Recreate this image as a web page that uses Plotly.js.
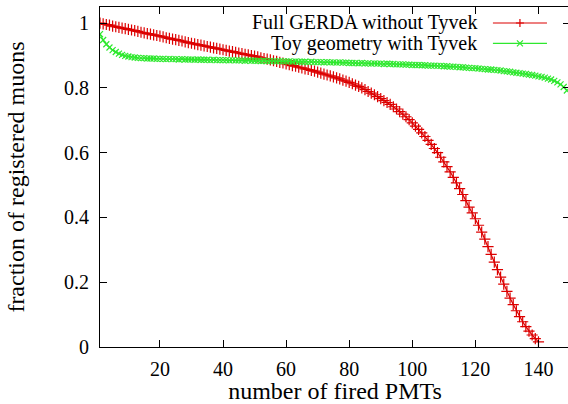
<!DOCTYPE html>
<html>
<head>
<meta charset="utf-8">
<script src="https://cdn.plot.ly/plotly-3.0.1.min.js"></script>
<style>
html,body{margin:0;padding:0;overflow:hidden;background:#fff;}
#chart{width:580px;height:404px;}
</style>
</head>
<body>
<div id="chart"></div>
<script>
// Series 1: Full GERDA without Tyvek (x = 1..140)
const gerdaX = Array.from({length: 140}, (_, i) => i + 1);
const gerdaY = [
  1.000, 0.998, 0.996, 0.994, 0.991, 0.989, 0.987, 0.985, 0.983, 0.981,
  0.979, 0.977, 0.975, 0.972, 0.970, 0.968, 0.966, 0.964, 0.962, 0.960,
  0.958, 0.955, 0.953, 0.951, 0.949, 0.947, 0.945, 0.942, 0.940, 0.938,
  0.936, 0.934, 0.932, 0.930, 0.928, 0.926, 0.924, 0.922, 0.920, 0.918,
  0.916, 0.914, 0.912, 0.910, 0.908, 0.906, 0.904, 0.902, 0.900, 0.898,
  0.896, 0.893, 0.891, 0.889, 0.887, 0.884, 0.882, 0.879, 0.877, 0.874,
  0.872, 0.869, 0.867, 0.864, 0.862, 0.859, 0.857, 0.854, 0.852, 0.849,
  0.846, 0.843, 0.840, 0.837, 0.834, 0.831, 0.828, 0.824, 0.821, 0.817,
  0.813, 0.809, 0.805, 0.800, 0.795, 0.789, 0.784, 0.779, 0.773, 0.767,
  0.761, 0.755, 0.749, 0.742, 0.735, 0.727, 0.719, 0.711, 0.702, 0.692,
  0.682, 0.672, 0.661, 0.650, 0.638, 0.626, 0.613, 0.600, 0.586, 0.572,
  0.557, 0.541, 0.524, 0.507, 0.489, 0.471, 0.452, 0.432, 0.414, 0.396,
  0.376, 0.355, 0.333, 0.310, 0.286, 0.262, 0.239, 0.216, 0.194, 0.172,
  0.151, 0.131, 0.112, 0.094, 0.078, 0.063, 0.049, 0.037, 0.026, 0.016
];

// Series 2: Toy geometry with Tyvek (x = 1..149)
const toyX = Array.from({length: 149}, (_, i) => i + 1);
const toyY = [
  0.966, 0.948, 0.935, 0.925, 0.917, 0.911, 0.906, 0.902, 0.899, 0.897,
  0.895, 0.894, 0.893, 0.892, 0.892, 0.891, 0.891, 0.891, 0.890, 0.890,
  0.890, 0.889, 0.890, 0.889, 0.889, 0.888, 0.889, 0.888, 0.888, 0.888,
  0.887, 0.888, 0.887, 0.887, 0.887, 0.886, 0.887, 0.886, 0.886, 0.886,
  0.886, 0.885, 0.886, 0.885, 0.885, 0.885, 0.884, 0.885, 0.884, 0.884,
  0.884, 0.883, 0.884, 0.883, 0.883, 0.883, 0.882, 0.883, 0.882, 0.882,
  0.882, 0.881, 0.882, 0.881, 0.881, 0.881, 0.880, 0.881, 0.880, 0.880,
  0.880, 0.879, 0.880, 0.879, 0.879, 0.878, 0.879, 0.878, 0.878, 0.877,
  0.877, 0.877, 0.876, 0.877, 0.876, 0.876, 0.875, 0.876, 0.875, 0.875,
  0.874, 0.875, 0.874, 0.874, 0.873, 0.873, 0.873, 0.872, 0.872, 0.871,
  0.871, 0.871, 0.870, 0.870, 0.869, 0.869, 0.869, 0.868, 0.868, 0.867,
  0.867, 0.866, 0.866, 0.865, 0.864, 0.864, 0.863, 0.862, 0.861, 0.861,
  0.860, 0.859, 0.858, 0.857, 0.857, 0.856, 0.855, 0.854, 0.852, 0.851,
  0.850, 0.848, 0.847, 0.846, 0.844, 0.843, 0.841, 0.840, 0.838, 0.836,
  0.834, 0.832, 0.829, 0.826, 0.822, 0.817, 0.811, 0.803, 0.792
];

const seriesNames = ["Full GERDA without Tyvek", "Toy geometry with Tyvek"];
const xTickVals = [20, 40, 60, 80, 100, 120, 140];
const yTickVals = [0, 0.2, 0.4, 0.6, 0.8, 1];
const yTickText = ["0", "0.2", "0.4", "0.6", "0.8", "1"];

const RED = "#dc0000";
const GREEN = "#2ee82e";
const FONT = "'Liberation Serif', 'Times New Roman', Times, serif";

const traces = [
  {
    x: gerdaX, y: gerdaY, name: seriesNames[0], type: "scatter", mode: "lines+markers",
    line: {color: RED, width: 1.2},
    marker: {symbol: "cross-thin", size: 8, color: RED, line: {color: RED, width: 1.2}},
    showlegend: false
  },
  {
    x: toyX, y: toyY, name: seriesNames[1], type: "scatter", mode: "lines+markers",
    line: {color: GREEN, width: 1.2},
    marker: {symbol: "x-thin", size: 6, color: GREEN, line: {color: GREEN, width: 1.2}},
    showlegend: false
  }
];

// manual gnuplot-style key (text left, sample right)
const keyRows = [0.953, 0.893];
const keyColors = [RED, GREEN];
const keyMarks = [
  "M-4,0 L4,0 M0,-4 L0,4",
  "M-3,-3 L3,3 M-3,3 L3,-3"
];
const annotations = seriesNames.map((n, i) => ({
  xref: "paper", yref: "paper", x: 0.806, y: keyRows[i],
  xanchor: "right", yanchor: "middle", showarrow: false,
  text: n, font: {family: FONT, size: 20, color: "#000"}
}));
const shapes = [];
keyRows.forEach((yy, i) => {
  shapes.push({type: "line", xref: "paper", yref: "paper", x0: 0.836, x1: 0.951, y0: yy, y1: yy,
               line: {color: keyColors[i], width: 1.2}});
  shapes.push({type: "path", xref: "paper", yref: "paper", xsizemode: "pixel", ysizemode: "pixel",
               xanchor: 0.8935, yanchor: yy, path: keyMarks[i],
               line: {color: keyColors[i], width: 1.2}});
});

const layout = {
  width: 580, height: 404,
  margin: {l: 100, r: 10, t: 7, b: 57, pad: 0},
  paper_bgcolor: "#fff", plot_bgcolor: "#fff",
  font: {family: FONT, size: 20, color: "#000"},
  xaxis: {
    range: [1, 150], tickvals: xTickVals, ticks: "inside", ticklen: 7, tickwidth: 1,
    tickcolor: "#000", showline: true, linecolor: "#000", linewidth: 1, mirror: "ticks",
    showgrid: false, zeroline: false, ticklabelstandoff: 4,
    tickfont: {family: FONT, size: 20, color: "#000"},
    title: {text: "number of fired PMTs", font: {family: FONT, size: 24, color: "#000"}, standoff: 10}
  },
  yaxis: {
    range: [0, 1.05], tickvals: yTickVals, ticktext: yTickText, ticks: "inside", ticklen: 7, tickwidth: 1,
    tickcolor: "#000", showline: true, linecolor: "#000", linewidth: 1, mirror: "ticks",
    showgrid: false, zeroline: false, ticklabelstandoff: 6,
    tickfont: {family: FONT, size: 20, color: "#000"},
    title: {text: "fraction of registered muons", font: {family: FONT, size: 24, color: "#000"}, standoff: 32}
  },
  annotations: annotations,
  shapes: shapes,
  showlegend: false
};

Plotly.newPlot("chart", traces, layout, {displayModeBar: false, staticPlot: true});
</script>
</body>
</html>
